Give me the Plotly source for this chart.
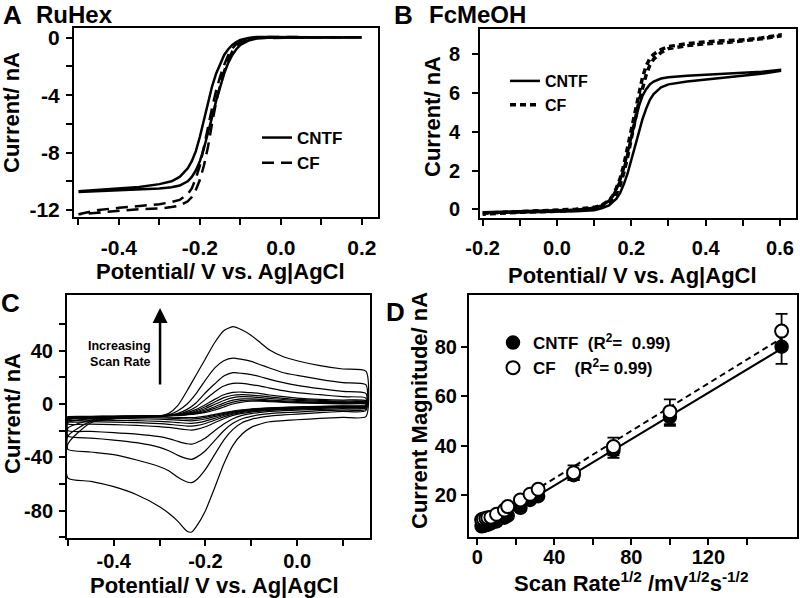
import numpy as np
import plotly.graph_objects as go

FONT = "Liberation Sans, Arial, sans-serif"

# ---------------- Panel A : RuHex ----------------
A_V = [-0.5, -0.45, -0.4, -0.35, -0.3, -0.27, -0.25, -0.23, -0.22, -0.21,
       -0.20, -0.19, -0.18, -0.17, -0.16, -0.15, -0.14, -0.13, -0.12, -0.11,
       -0.10, -0.08, -0.06, -0.04, 0.0, 0.05, 0.1, 0.15, 0.2]
A_CNTF_fwd = [-10.7, -10.6, -10.5, -10.4, -10.2, -10.0, -9.7, -9.1, -8.6, -7.9,
              -6.9, -5.7, -4.5, -3.4, -2.5, -1.8, -1.2, -0.8, -0.5, -0.3,
              -0.15, -0.02, 0.05, 0.05, 0.05, 0.03, 0.02, 0.02, 0.02]
A_CNTF_rev = [-10.75, -10.7, -10.62, -10.55, -10.5, -10.42, -10.3, -10.0, -9.7, -9.25,
              -8.6, -7.7, -6.7, -5.55, -4.4, -3.4, -2.5, -1.75, -1.2, -0.8,
              -0.5, -0.2, -0.05, 0.0, 0.02, 0.02, 0.02, 0.02, 0.02]
A_CF_fwd = [-12.3, -12.0, -11.85, -11.7, -11.6, -11.45, -11.3, -10.9, -10.5, -9.8,
            -8.9, -7.6, -6.2, -4.9, -3.7, -2.7, -1.9, -1.2, -0.75, -0.45,
            -0.25, -0.05, 0.02, 0.05, 0.05, 0.03, 0.03, 0.03, 0.03]
A_CF_rev = [-12.3, -12.15, -12.05, -11.95, -11.9, -11.8, -11.7, -11.4, -11.1, -10.6,
            -9.9, -8.9, -7.6, -6.0, -4.5, -3.3, -2.3, -1.5, -0.95, -0.6,
            -0.35, -0.1, -0.02, 0.0, 0.02, 0.03, 0.03, 0.03, 0.03]

# ---------------- Panel B : FcMeOH ----------------
B_V = [-0.2, -0.1, 0.0, 0.05, 0.10, 0.12, 0.14, 0.15, 0.16, 0.17,
       0.18, 0.19, 0.20, 0.21, 0.22, 0.23, 0.24, 0.25, 0.26, 0.28,
       0.30, 0.35, 0.40, 0.45, 0.50, 0.55, 0.6]
B_CNTF_fwd = [-0.15, -0.1, -0.05, -0.02, 0.08, 0.2, 0.45, 0.7, 1.05, 1.5,
              2.1, 2.9, 3.8, 4.6, 5.3, 5.85, 6.2, 6.45, 6.6, 6.75,
              6.82, 6.9, 6.95, 7.0, 7.05, 7.1, 7.2]
B_CNTF_rev = [-0.2, -0.15, -0.12, -0.1, -0.05, 0.05, 0.2, 0.35, 0.55, 0.85,
              1.3, 1.85, 2.5, 3.2, 3.95, 4.65, 5.2, 5.65, 5.95, 6.3,
              6.45, 6.6, 6.7, 6.8, 6.9, 7.0, 7.15]
B_CF_fwd = [-0.2, -0.12, -0.05, 0.0, 0.1, 0.2, 0.45, 0.7, 1.1, 1.6,
            2.3, 3.2, 4.2, 5.2, 6.0, 6.8, 7.4, 7.8, 8.0, 8.25,
            8.4, 8.55, 8.65, 8.7, 8.75, 8.85, 9.0]
B_CF_rev = [-0.25, -0.15, -0.1, -0.05, 0.05, 0.12, 0.3, 0.5, 0.8, 1.25,
            1.9, 2.7, 3.6, 4.6, 5.5, 6.3, 6.95, 7.45, 7.75, 8.1,
            8.3, 8.45, 8.55, 8.6, 8.7, 8.8, 8.95]

# ---------------- Panel C : CVs at increasing scan rate ----------------
C_V_up = [-0.5, -0.45, -0.4, -0.35, -0.3, -0.28, -0.26, -0.24, -0.22, -0.2, -0.18,
          -0.16, -0.14, -0.12, -0.1, -0.08, -0.06, -0.03, 0.0, 0.05, 0.1, 0.15]
C_V_down = [0.15, 0.1, 0.05, 0.0, -0.03, -0.06, -0.08, -0.1, -0.12, -0.14, -0.16, -0.18,
            -0.2, -0.22, -0.23, -0.24, -0.26, -0.28, -0.3, -0.35, -0.4, -0.45, -0.5]
C_up = [
    [-30, -14, -11, -10, -9, -7, -1, 10, 22, 34, 46, 55, 58, 55.5, 51.5, 46, 40.5, 35.5, 32.5, 28.8, 26.3, 24.7],
    [-24, -13, -11, -10, -9, -8, -5, 0, 8, 18, 27, 32.5, 34.5, 33.5, 32, 29.5, 27, 23.5, 21.5, 18.5, 16, 14.5],
    [-18, -12, -10.5, -10, -9, -8.5, -7, -4, 1, 8.5, 15, 21, 23.5, 23, 22, 20.5, 18.5, 16, 14, 11.5, 9.5, 8],
    [-14, -11, -10, -9.5, -9, -8.5, -7.5, -5.5, -2, 3.5, 9, 13.5, 15.5, 15.5, 14.5, 13.5, 12, 10, 8.5, 7, 5.5, 4.5],
    [-12, -10.5, -10, -9.5, -9, -8.7, -8, -6.5, -4, -0.5, 3.5, 7, 8.8, 9, 8.5, 7.8, 6.8, 5.5, 4.5, 3.5, 3, 2.5],
    [-11, -10.2, -9.8, -9.3, -9, -8.8, -8.2, -7, -5, -2, 1.5, 4.8, 6.6, 7, 6.7, 6.1, 5.3, 4.3, 3.5, 2.7, 2.2, 1.8],
    [-10.5, -10, -9.6, -9.2, -8.9, -8.7, -8.3, -7.4, -5.8, -3.3, -0.3, 2.7, 4.8, 5.5, 5.3, 4.8, 4.2, 3.4, 2.7, 2, 1.6, 1.3],
    [-10, -9.7, -9.4, -9.1, -8.8, -8.6, -8.3, -7.7, -6.5, -4.5, -2, 0.7, 2.9, 3.9, 3.9, 3.5, 3, 2.4, 1.9, 1.3, 1, 0.8],
    [-9.6, -9.4, -9.2, -9, -8.7, -8.5, -8.3, -7.9, -7, -5.5, -3.3, -0.8, 1.4, 2.7, 3, 2.7, 2.3, 1.8, 1.3, 0.8, 0.5, 0.3],
    [-9.3, -9.2, -9, -8.8, -8.6, -8.5, -8.3, -8, -7.4, -6.3, -4.5, -2.2, 0, 1.5, 2.1, 2.1, 1.8, 1.3, 0.9, 0.4, 0.1, 0],
]
C_down = [
    [-9.5, -10, -10.8, -11.8, -12.5, -13.3, -15, -17.5, -22.5, -31, -45, -63, -80, -92, -96, -95.5, -88, -82, -77, -68, -62, -58, -55.5],
    [-5, -5.5, -6.5, -7.5, -8.2, -9, -10, -11.5, -14, -19, -27, -38, -49, -57, -59, -58.5, -55, -50, -47, -42, -38, -36, -34],
    [-4, -4.5, -5, -6, -6.5, -7.2, -8, -9.2, -11, -14.5, -20, -27.5, -35, -40, -41.5, -41, -38.5, -35, -32.5, -29, -27, -25.5, -24],
    [-3, -3.5, -4, -4.5, -5, -5.5, -6.2, -7.2, -8.5, -11, -15, -20, -25.5, -29, -30, -29.8, -28, -26, -24.5, -22.5, -21.5, -20.5, -20],
    [-2.5, -2.8, -3.2, -3.8, -4.2, -4.8, -5.3, -6, -7, -8.5, -11, -14, -17, -19, -19.5, -19.3, -18.5, -17.5, -17, -16, -15.5, -15, -15],
    [-2.2, -2.5, -2.9, -3.4, -3.8, -4.3, -4.8, -5.4, -6.3, -7.6, -9.6, -12.2, -14.6, -16.2, -16.6, -16.5, -15.9, -15.2, -14.7, -14, -13.6, -13.3, -13.2],
    [-1.9, -2.2, -2.6, -3, -3.4, -3.8, -4.3, -4.9, -5.7, -6.9, -8.6, -10.8, -12.8, -14.1, -14.5, -14.4, -13.9, -13.4, -13, -12.5, -12.2, -12, -12],
    [-1.6, -1.9, -2.3, -2.7, -3, -3.4, -3.8, -4.4, -5.1, -6.2, -7.7, -9.5, -11.2, -12.3, -12.6, -12.5, -12.1, -11.7, -11.4, -11.1, -10.9, -10.8, -10.8],
    [-1.3, -1.6, -2, -2.4, -2.7, -3.1, -3.5, -4, -4.7, -5.7, -7, -8.5, -10, -11, -11.3, -11.2, -10.9, -10.6, -10.4, -10.2, -10.1, -10, -10],
    [-1, -1.3, -1.7, -2.1, -2.4, -2.8, -3.2, -3.7, -4.3, -5.2, -6.4, -7.8, -9.1, -10, -10.2, -10.2, -10, -9.8, -9.7, -9.6, -9.5, -9.5, -9.5],
]

# ---------------- Panel D : peak current vs sqrt(scan rate) ----------------
D_x = [2.24, 3.16, 4.47, 5.48, 7.07, 10, 14.1, 15.8, 22.4, 27.4, 31.6, 50, 70.7, 100, 158]
D_CNTF = [7.3, 7.5, 7.8, 8.0, 8.5, 9.3, 10.8, 11.6, 14.8, 18.0, 19.5, 28.0, 38.0, 51.5, 80.0]
D_CNTF_err = [0.5, 0.5, 0.5, 0.5, 0.6, 0.7, 0.8, 0.8, 1.0, 1.0, 1.2, 2.0, 3.0, 3.5, 7.0]
D_CF = [10.0, 10.3, 10.5, 10.8, 11.0, 12.2, 13.9, 15.3, 18.0, 20.3, 22.3, 29.0, 39.6, 53.7, 86.3]
D_CF_err = [0.5, 0.5, 0.5, 0.5, 0.6, 0.7, 0.8, 0.8, 1.0, 1.0, 1.2, 3.0, 3.6, 5.0, 7.0]

fig = go.Figure()

def loop(v, fwd, rev):
    return list(v) + list(v[::-1]), list(fwd) + list(rev[::-1])

# Panel A traces
x, y = loop(A_V, A_CNTF_fwd, A_CNTF_rev)
fig.add_trace(go.Scatter(x=x, y=y, mode="lines", name="CNTF", legend="legend",
                         line=dict(color="black", width=2.5), xaxis="x", yaxis="y"))
x, y = loop(A_V, A_CF_fwd, A_CF_rev)
fig.add_trace(go.Scatter(x=x, y=y, mode="lines", name="CF", legend="legend",
                         line=dict(color="black", width=2.5, dash="12px,7px"), xaxis="x", yaxis="y"))

# Panel B traces
x, y = loop(B_V, B_CNTF_fwd, B_CNTF_rev)
fig.add_trace(go.Scatter(x=x, y=y, mode="lines", name="CNTF", legend="legend2",
                         line=dict(color="black", width=2.5), xaxis="x2", yaxis="y2"))
x, y = loop(B_V, B_CF_fwd, B_CF_rev)
fig.add_trace(go.Scatter(x=x, y=y, mode="lines", name="CF", legend="legend2",
                         line=dict(color="black", width=3.5, dash="6px,4px"), xaxis="x2", yaxis="y2"))

# Panel C traces
for up, down in zip(C_up, C_down):
    xs = C_V_up + C_V_down + [C_V_up[0]]
    ys = up + down + [up[0]]
    fig.add_trace(go.Scatter(x=xs, y=ys, mode="lines", showlegend=False,
                             line=dict(color="black", width=1.2, shape="spline", smoothing=0.6),
                             xaxis="x3", yaxis="y3"))

# Panel D traces: fit lines then markers
for yy, dash in ((D_CNTF, "solid"), (D_CF, "6px,4px")):
    k, b = np.polyfit(D_x, yy, 1)
    xf = [min(D_x), max(D_x)]
    fig.add_trace(go.Scatter(x=xf, y=[k * v + b for v in xf], mode="lines", showlegend=False,
                             line=dict(color="black", width=2, dash=dash), xaxis="x4", yaxis="y4"))

fig.add_trace(go.Scatter(x=D_x, y=D_CNTF, mode="markers", legend="legend3",
                         name="CNTF  (R<sup>2</sup>=  0.99)",
                         marker=dict(symbol="circle", size=13, color="black", line=dict(color="black", width=1.5)),
                         error_y=dict(type="data", array=D_CNTF_err, color="black", thickness=1.8, width=6),
                         xaxis="x4", yaxis="y4"))
fig.add_trace(go.Scatter(x=D_x, y=D_CF, mode="markers", legend="legend3",
                         name="CF    (R<sup>2</sup>= 0.99)",
                         marker=dict(symbol="circle", size=13, color="white", line=dict(color="black", width=2)),
                         error_y=dict(type="data", array=D_CF_err, color="black", thickness=1.8, width=6),
                         xaxis="x4", yaxis="y4"))

W, H = 800, 598
def px(xp):
    return xp / W
def py(yp):
    return 1 - yp / H

def axis(domain, rng, tickvals, ticktext, minor_vals, anchor, fsize=20, standoff=0):
    return dict(domain=domain, range=rng, tickmode="array", tickvals=tickvals, ticktext=ticktext,
                minor=dict(tickmode="array", tickvals=minor_vals, ticks="outside", ticklen=6,
                           tickwidth=2, tickcolor="black"),
                ticks="outside", ticklen=6, tickwidth=2, tickcolor="black",
                showline=True, linewidth=2, linecolor="black", mirror=True,
                showgrid=False, zeroline=False, anchor=anchor, automargin=False,
                ticklabelstandoff=standoff,
                tickfont=dict(family=FONT, size=fsize, color="black", weight="bold"))

LEGFONT = dict(family=FONT, size=17, color="black", weight="bold")
layout = dict(
    width=W, height=H, margin=dict(l=0, r=0, t=0, b=0, autoexpand=False),
    paper_bgcolor="white", plot_bgcolor="white",
    font=dict(family=FONT, color="black"),
    xaxis=axis([px(74), px(378)], [-0.511, 0.24], [-0.4, -0.2, 0.0, 0.2], ["-0.4", "-0.2", "0.0", "0.2"],
               [-0.5, -0.3, -0.1, 0.1], "y", 21, 5),
    yaxis=axis([py(217), py(28)], [-12.49, 0.68], [0, -4, -8, -12], ["0", "-4", "-8", "-12"],
               [-2, -6, -10], "x", 21, 2),
    xaxis2=axis([px(480), px(796)], [-0.207, 0.643], [-0.2, 0.0, 0.2, 0.4, 0.6],
                ["-0.2", "0.0", "0.2", "0.4", "0.6"], [-0.1, 0.1, 0.3, 0.5], "y2", 20, 5),
    yaxis2=axis([py(218), py(29)], [-0.45, 9.31], [0, 2, 4, 6, 8], ["0", "2", "4", "6", "8"], [], "x2", 20, 8),
    xaxis3=axis([px(67), px(370)], [-0.502, 0.159], [-0.4, -0.2, 0.0], ["-0.4", "-0.2", "0.0"],
                [-0.5, -0.3, -0.1, 0.1], "y3", 20, -2),
    yaxis3=axis([py(538), py(295)], [-100.5, 81.8], [40, 0, -40, -80], ["40", "0", "-40", "-80"],
                [60, 20, -20, -60, -100], "x3", 20, 2),
    xaxis4=axis([px(469), px(797)], [-4.3, 166], [0, 40, 80, 120], ["0", "40", "80", "120"],
                [20, 60, 100, 140], "y4", 20, -5),
    yaxis4=axis([py(537), py(295)], [3, 100.9], [20, 40, 60, 80], ["20", "40", "60", "80"], [], "x4", 20, 0),
    legend=dict(x=px(257), y=py(120), xanchor="left", yanchor="top", bgcolor="rgba(0,0,0,0)",
                font=LEGFONT, traceorder="normal", itemwidth=30),
    legend2=dict(x=px(505), y=py(64), xanchor="left", yanchor="top", bgcolor="rgba(0,0,0,0)",
                 font=dict(family=FONT, size=16, color="black", weight="bold"),
                 traceorder="normal", itemwidth=30),
    legend3=dict(x=px(493), y=py(325), xanchor="left", yanchor="top", bgcolor="rgba(0,0,0,0)",
                 font=LEGFONT, traceorder="normal", itemwidth=30),
)
fig.update_layout(**layout)

ann = []
def note(text, xp, yp, size=22, angle=0, xanchor="center"):
    ann.append(dict(text=text, x=px(xp), y=py(yp), xref="paper", yref="paper", showarrow=False,
                    xanchor=xanchor, yanchor="middle", textangle=angle,
                    font=dict(family=FONT, size=size, color="black", weight="bold")))

# axis titles
note("Potential/ V vs. Ag|AgCl", 220, 271)
note("Current/ nA", 12, 113, angle=-90)
note("Potential/ V vs. Ag|AgCl", 632, 275)
note("Current/ nA", 433, 117, angle=-90)
note("Potential/ V vs. Ag|AgCl", 214, 585)
note("Current/ nA", 12, 414, angle=-90)
note("Scan Rate<sup>1/2</sup> /mV<sup>1/2</sup>s<sup>-1/2</sup>", 631, 582)
note("Current Magnitude/ nA", 419, 411, angle=-90)
# panel labels
note("A", 12, 15, size=26)
note("RuHex", 34, 15, size=24, xanchor="left")
note("B", 403, 15, size=26)
note("FcMeOH", 427, 15, size=24, xanchor="left")
note("C", 10, 303, size=26)
note("D", 395, 312, size=26)
# scan-rate annotation
ann.append(dict(text="Increasing<br>Scan Rate", x=-0.314, y=37.5, xref="x3", yref="y3", showarrow=False,
                xanchor="right", yanchor="middle", align="right",
                font=dict(family=FONT, size=12.5, color="black", weight="bold")))
ann.append(dict(text="", x=-0.299, y=72, ax=-0.299, ay=13.5, xref="x3", yref="y3", axref="x3", ayref="y3",
                showarrow=True, arrowhead=2, arrowsize=1.2, arrowwidth=2.5, arrowcolor="black"))
fig.update_layout(annotations=ann)

# the page body has a default 8px margin; remove it so the figure fills the window exactly
fig.write_html("out.html", config={"displayModeBar": False},
               post_script="document.body.style.margin='0';")
